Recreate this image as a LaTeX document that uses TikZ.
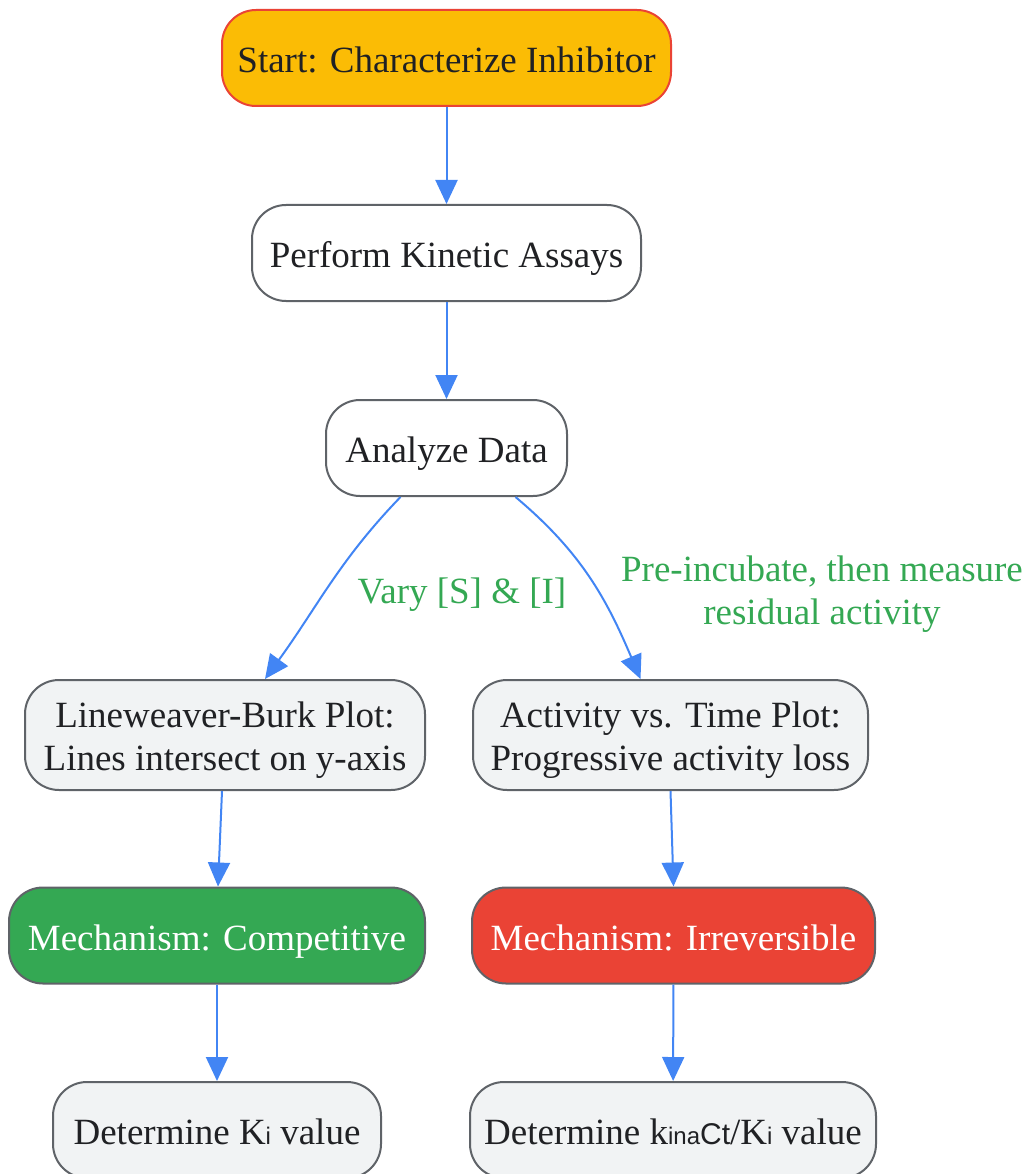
\documentclass[tikz,border=0pt]{standalone}
\usepackage{fontspec}
\setmainfont{Liberation Serif}
\newfontfamily\subfont{Liberation Sans}
\usetikzlibrary{arrows.meta}
\definecolor{ink}{HTML}{202124}
\definecolor{boxline}{HTML}{5F6368}
\definecolor{lightfill}{HTML}{F1F3F4}
\definecolor{startfill}{HTML}{FBBC05}
\definecolor{gred}{HTML}{EA4335}
\definecolor{ggreen}{HTML}{34A853}
\definecolor{flowblue}{HTML}{4285F4}
\newcommand{\smallsub}[1]{{\subfont\fontsize{24}{24}\selectfont #1}}
\newcommand{\midsub}[1]{{\subfont\fontsize{30}{30}\selectfont #1}}
\tikzstyle{process}=[draw=boxline, line width=2pt, rounded corners=34pt, minimum height=96pt, inner xsep=14pt, text=ink, align=center, font=\fontsize{37}{43}\selectfont, text height=30pt, text depth=1pt]
\tikzstyle{plain process}=[process, fill=white]
\tikzstyle{grey process}=[process, fill=lightfill, minimum height=110pt, text height=73pt, text depth=2pt]
\tikzstyle{start process}=[process, draw=gred, fill=startfill]
\tikzstyle{flow}=[draw=flowblue, line width=2pt, -{Triangle[length=24pt, width=22pt]}]
\tikzstyle{flow label}=[text=ggreen, align=center, font=\fontsize{37}{43}\selectfont]

\begin{document}
\begin{tikzpicture}[x=1pt, y=1pt]
          \useasboundingbox (0, 0) rectangle (1027, -1174);
          \node[start process, minimum width=449pt] (start) at (446.5, -58) {Start: Characterize Inhibitor};
          \node[plain process, minimum width=389pt] (perform) at (446.5, -253) {Perform Kinetic Assays};
          \node[plain process, minimum width=241pt] (analyze) at (446.5, -448) {Analyze Data};
          \node[grey process, minimum width=400pt] (lineweaver) at (225, -735) {Lineweaver-Burk Plot:\\Lines intersect on y-axis};
          \node[grey process, minimum width=395pt] (activity) at (670.5, -735) {Activity vs. Time Plot:\\Progressive activity loss};
          \node[process, fill=ggreen, text=white, minimum width=416pt] (competitive) at (217, -935.5) {Mechanism: Competitive};
          \node[process, fill=gred, text=white, minimum width=403pt] (irreversible) at (673.5, -935.5) {Mechanism: Irreversible};
          \node[process, fill=lightfill, minimum width=328pt] (det_ki) at (217, -1130) {Determine K\smallsub{i} value};
          \node[process, fill=lightfill, minimum width=406pt] (det_kinact) at (673, -1130) {Determine k\smallsub{ina}\midsub{Ct}/K\smallsub{i} value};

          \node[flow label] (vary) at (462, -595) {Vary [S] \& [I]};
          \node[flow label] (preinc) at (822, -594) {Pre-incubate, then measure\\residual activity};

          \draw[flow] (start) -- (perform);
          \draw[flow] (perform) -- (analyze);
          \draw[flow] ([xshift=-46pt]analyze.south)
            to[out=-134, in=54] ([xshift=40pt]lineweaver.north);
          \draw[flow] ([xshift=69pt]analyze.south)
            to[out=-40, in=113] ([xshift=-30pt]activity.north);
          \draw[flow] ([xshift=-3pt]lineweaver.south) -- ([xshift=1pt]competitive.north);
          \draw[flow] (activity.south) -- (irreversible.north);
          \draw[flow] (competitive) -- (det_ki);
          \draw[flow] (irreversible) -- (det_kinact);
        \end{tikzpicture}
\end{document}
